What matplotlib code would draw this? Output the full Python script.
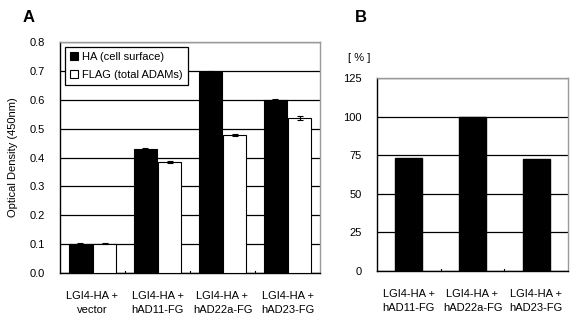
import matplotlib
matplotlib.use("Agg")
import matplotlib.pyplot as plt
import numpy as np

plt.rcParams['font.family'] = ['Liberation Sans', 'DejaVu Sans']

# Panel A data
groups_a = ["LGI4-HA +\nvector", "LGI4-HA +\nhAD11-FG", "LGI4-HA +\nhAD22a-FG", "LGI4-HA +\nhAD23-FG"]
ha_vals = [0.102, 0.430, 0.695, 0.600]
ha_err = [0.003, 0.003, 0.004, 0.002]
flag_vals = [0.102, 0.385, 0.478, 0.538]
flag_err = [0.001, 0.003, 0.002, 0.007]
yticks_a = [0.0, 0.1, 0.2, 0.3, 0.4, 0.5, 0.6, 0.7, 0.8]

# Panel B data
groups_b = ["LGI4-HA +\nhAD11-FG", "LGI4-HA +\nhAD22a-FG", "LGI4-HA +\nhAD23-FG"]
pct_vals = [73, 100, 72.5]
yticks_b = [0, 25, 50, 75, 100, 125]

W, H = 578, 316
fig = plt.figure(figsize=(W / 100, H / 100), dpi=100)

def px_axes(l, t, r, b):
    return fig.add_axes([l / W, 1 - b / H, (r - l) / W, (b - t) / H])

fs = 8
gray = '#999999'

def style(ax, yticks, ylabels):
    ax.set_yticks(yticks)
    ax.set_yticklabels(ylabels, fontsize=fs)
    ax.yaxis.grid(True, color='black', linewidth=0.9)
    ax.set_axisbelow(True)
    ax.tick_params(axis='y', length=0, pad=11)
    ax.tick_params(axis='x', length=0, pad=13)
    ax.spines['left'].set_color('black')
    ax.spines['bottom'].set_color('black')
    ax.spines['top'].set_color(gray)
    ax.spines['right'].set_color(gray)
    for s in ax.spines.values():
        s.set_linewidth(1.0)

# Panel A
axA = px_axes(60, 42, 320, 273)
x = np.arange(len(groups_a))
bw = 0.34
gap = 0.03
axA.bar(x - bw / 2 - gap / 2, ha_vals, bw, color='black', edgecolor='black', linewidth=0.8,
        yerr=ha_err, error_kw=dict(ecolor='black', capsize=2.5, elinewidth=0.8, capthick=0.8),
        label='HA (cell surface)', zorder=3)
axA.bar(x + bw / 2 + gap / 2, flag_vals, bw, color='white', edgecolor='black', linewidth=0.8,
        yerr=flag_err, error_kw=dict(ecolor='black', capsize=2.5, elinewidth=0.8, capthick=0.8),
        label='FLAG (total ADAMs)', zorder=3)
axA.set_xlim(-0.5, len(groups_a) - 0.5)
axA.set_ylim(0, 0.8)
style(axA, yticks_a, [f"{v:.1f}" for v in yticks_a])
axA.set_xticks(x)
axA.set_xticklabels(groups_a, fontsize=fs, linespacing=1.45)
for b in np.arange(0.5, len(groups_a) - 0.5, 1.0):
    axA.plot([b, b], [0, 0.008], color='black', linewidth=0.8, zorder=4, clip_on=False)
axA.set_ylabel("Optical Density (450nm)", fontsize=fs, labelpad=8)
leg = axA.legend(loc='upper left', bbox_to_anchor=(0.012, 0.99), fontsize=fs, frameon=True,
                 fancybox=False, edgecolor='black', handlelength=0.7, handleheight=0.7,
                 handletextpad=0.35, borderpad=0.45, labelspacing=0.75, borderaxespad=0.2)
leg.get_frame().set_linewidth(0.9)
leg.get_frame().set_alpha(1)
fig.text(23 / W, 1 - 18 / H, "A", fontsize=12, fontweight='bold', ha='left', va='center')

# Panel B
axB = px_axes(377, 78, 568, 271)
xb = np.arange(len(groups_b))
axB.bar(xb, pct_vals, 0.42, color='black', edgecolor='black', zorder=3)
axB.set_xlim(-0.5, len(groups_b) - 0.5)
axB.set_ylim(0, 125)
style(axB, yticks_b, [str(v) for v in yticks_b])
axB.set_xticks(xb)
axB.set_xticklabels(groups_b, fontsize=fs, linespacing=1.45)
for b in np.arange(0.5, len(groups_b) - 0.5, 1.0):
    axB.plot([b, b], [0, 1.2], color='black', linewidth=0.8, zorder=4, clip_on=False)
fig.text(348 / W, 1 - 58 / H, "[ % ]", fontsize=fs, ha='left', va='center')
fig.text(355 / W, 1 - 18 / H, "B", fontsize=12, fontweight='bold', ha='left', va='center')

fig.savefig("out.png", dpi=100)
